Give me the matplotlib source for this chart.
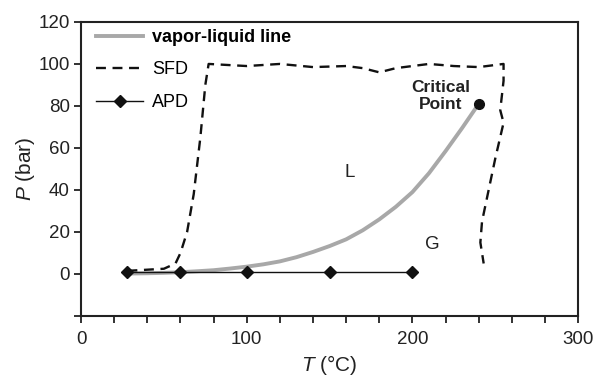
import matplotlib
matplotlib.use("Agg")
import matplotlib.pyplot as plt
from matplotlib.ticker import MultipleLocator

plt.rcParams["font.family"] = ["Liberation Sans", "DejaVu Sans"]
plt.rcParams["mathtext.fontset"] = "custom"
plt.rcParams["mathtext.it"] = "Liberation Sans:italic"
plt.rcParams["mathtext.rm"] = "Liberation Sans"

# vapor-liquid equilibrium line
vl_t = [28, 40, 50, 60, 70, 80, 90, 100, 110, 120, 130, 140, 150, 160,
        170, 180, 190, 200, 210, 220, 230, 240]
vl_p = [0.2, 0.35, 0.55, 0.85, 1.3, 1.8, 2.6, 3.5, 4.6, 6, 8, 10.5, 13.3,
        16.5, 20.8, 26, 32, 39, 48, 58.5, 69.5, 81]

# SFD boundary (dashed)
sfd_t = [28, 50, 57, 60, 64, 68, 72, 75, 77, 100, 120, 140, 160, 170, 180,
         190, 210, 225, 240, 255, 255, 253, 255, 250, 246, 242, 241, 243]
sfd_p = [1.5, 2.5, 5, 10, 20, 38, 65, 90, 100, 99, 100, 98.5, 99, 98, 96,
         98, 100, 99, 98.5, 100, 92, 78, 72, 55, 40, 25, 15, 5]

# APD points
apd_t = [28, 60, 100, 150, 200]
apd_p = [1, 1, 1, 1, 1]

crit_t, crit_p = 240, 81

fig = plt.figure(figsize=(5.96, 3.78), dpi=100)
ax = fig.add_axes([0.136, 0.164, 0.834, 0.778])

ax.plot(vl_t, vl_p, color="#a8a8a8", lw=2.8, label="vapor-liquid line", zorder=2)
ax.plot(sfd_t, sfd_p, color="#111111", lw=1.7, ls=(0, (4.2, 2.8)), label="SFD", zorder=3)
ax.plot(apd_t, apd_p, color="#111111", lw=1.0, marker="D", ms=6.5, label="APD", zorder=4)
ax.plot([crit_t], [crit_p], "o", color="#111111", ms=7, zorder=5)

ax.text(217, 84.8, "Critical\nPoint", ha="center", va="center", fontsize=12.5,
        fontweight="bold", color="#222222", linespacing=1.15)
ax.text(162, 48.5, "L", ha="center", va="center", fontsize=13.5, color="#222222")
ax.text(212, 14, "G", ha="center", va="center", fontsize=13.5, color="#222222")

ax.set_xlim(0, 300)
ax.set_ylim(-20, 120)
ax.set_xticks([0, 100, 200, 300])
ax.xaxis.set_minor_locator(MultipleLocator(20))
ax.set_yticks([-20, 0, 20, 40, 60, 80, 100, 120])
ax.set_yticklabels(["", "0", "20", "40", "60", "80", "100", "120"])
ax.tick_params(axis="both", which="both", direction="out", length=5, width=1.3,
               labelsize=13.5, colors="#222222")
ax.tick_params(axis="x", which="major", pad=6)
ax.tick_params(axis="y", which="major", pad=3)

for s in ax.spines.values():
    s.set_linewidth(1.5)
    s.set_color("#222222")

ax.set_xlabel(r"$\it{T}$ (°C)", fontsize=15, color="#222222", labelpad=3.5)
ax.set_ylabel(r"$\it{P}$ (bar)", fontsize=15, color="#222222", labelpad=1)

leg = ax.legend(loc="upper left", bbox_to_anchor=(0.016, 1.0), frameon=False,
                fontsize=13, handlelength=2.6, labelspacing=0.85,
                borderaxespad=0.0, handletextpad=0.5)
leg.get_texts()[0].set_fontweight("bold")

fig.savefig("out.png", dpi=100)
